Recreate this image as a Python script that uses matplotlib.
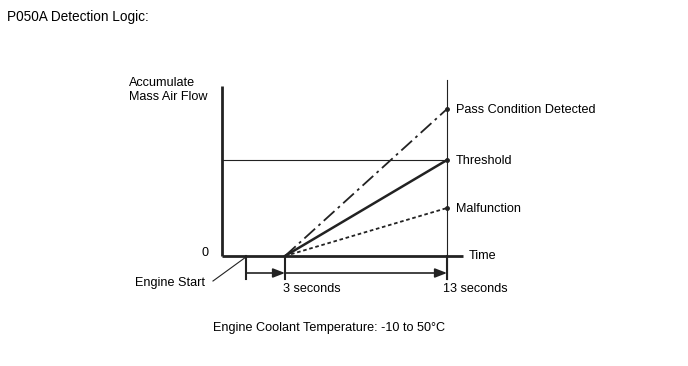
import matplotlib
matplotlib.use("Agg")
import matplotlib.pyplot as plt

plt.rcParams['font.family'] = ['Liberation Sans', 'DejaVu Sans']

# Schematic values (diagram units; origin of the graph at 0,0)
event_names = ["Engine Start", "3 seconds", "13 seconds"]
event_x = [24, 63, 225]            # engine start, 3 s, 13 s
curve_names = ["Pass Condition Detected", "Threshold", "Malfunction"]
curve_end = [147, 96, 48]          # accumulated MAF at 13 s
threshold = 96
title = "P050A Detection Logic:"
ylabel = "Accumulate\nMass Air Flow"
xlabel = "Time"
footnote = "Engine Coolant Temperature: -10 to 50\u00b0C"

W, H = 688, 366
fig = plt.figure(figsize=(W / 100, H / 100), dpi=100)
ax = fig.add_axes([0, 0, 1, 1])
ax.set_xlim(-222, W - 222)
ax.set_ylim(-(H - 256), 256)
ax.axis("off")

col = "#222222"
fs = 9.1

# axes
ax.plot([0, 0], [0, 170], color=col, lw=2, solid_capstyle="butt")
ax.plot([0, 241], [0, 0], color=col, lw=2, solid_capstyle="butt")
ax.text(-17, 3, "0", ha="center", va="center", fontsize=fs)
ax.text(247, 0, xlabel, ha="left", va="center", fontsize=fs)
ax.text(-93, 166, ylabel, ha="left", va="center", fontsize=fs, linespacing=1.15)

# threshold line & 13s vertical
ax.plot([0, event_x[2]], [threshold, threshold], color=col, lw=0.8)
ax.plot([event_x[2], event_x[2]], [176, -23], color=col, lw=0.8)

# curves
styles = [dict(ls=(0, (8, 2.5, 1.5, 2.5)), lw=1.3),
          dict(ls="-", lw=1.8),
          dict(ls=(0, (2, 1.5)), lw=1.3)]
for name, yv, st in zip(curve_names, curve_end, styles):
    ax.plot([event_x[1], event_x[2]], [0, yv], color=col, **st)
    ax.plot([event_x[2]], [yv], marker="o", ms=2.5, color=col)
    ax.text(event_x[2] + 9, yv - 1, name, ha="left", va="center", fontsize=fs)

# ticks below axis
for xv in event_x:
    ax.plot([xv, xv], [0, -23], color=col, lw=1.5)

# arrows
for x0, x1 in [(event_x[0], event_x[1]), (event_x[1], event_x[2])]:
    ax.annotate("", xy=(x1, -17), xytext=(x0, -17),
                arrowprops=dict(arrowstyle="-|>,head_length=0.9,head_width=0.35",
                                color=col, lw=1.2,
                                mutation_scale=8, shrinkA=0, shrinkB=0))

ax.text(event_x[1] - 2, -33, event_names[1], ha="left", va="center", fontsize=fs)
ax.text(event_x[2] - 4, -33, event_names[2], ha="left", va="center", fontsize=fs)

# engine start leader
ax.plot([event_x[0], -9], [-1, -25], color=col, lw=0.8)
ax.text(-17, -27, event_names[0], ha="right", va="center", fontsize=fs)

ax.text(-215, 239, title, ha="left", va="center", fontsize=9.8)
ax.text(107, -72, footnote, ha="center", va="center", fontsize=fs)

fig.savefig("out.png", dpi=100)
